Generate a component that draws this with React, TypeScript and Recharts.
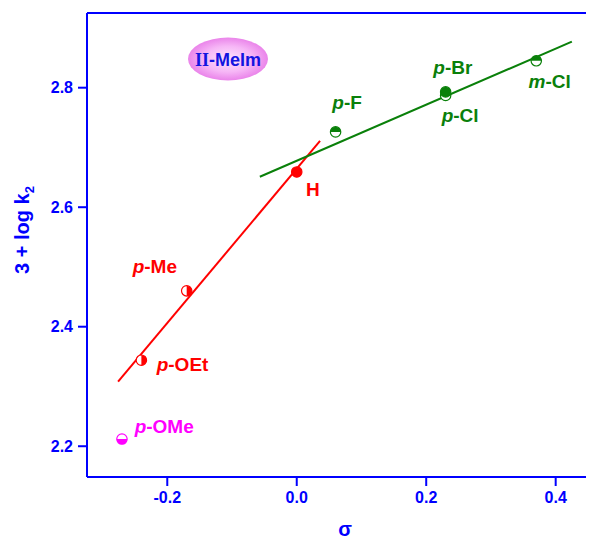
import React from 'react';
import { ComposedChart, Scatter, XAxis, YAxis, ReferenceLine, Customized } from 'recharts';

// ---- data ----
const substituents = ['p-OMe', 'p-OEt', 'p-Me', 'H', 'p-F', 'p-Br', 'p-Cl', 'm-Cl'];
const sigmaValues = [-0.27, -0.24, -0.17, 0.0, 0.06, 0.23, 0.23, 0.37];
const logKValues = [2.212, 2.344, 2.46, 2.659, 2.726, 2.793, 2.787, 2.845];

const redFitSigma = [-0.276, 0.036];
const redFitLogK = [2.308, 2.711];
const greenFitSigma = [-0.057, 0.425];
const greenFitLogK = [2.651, 2.877];

const xTicks = [-0.2, 0.0, 0.2, 0.4];
const yTicks = [2.2, 2.4, 2.6, 2.8];
const xDomain = [-0.324, 0.47];
const yDomain = [2.1485, 2.925];

// ---- styles ----
const BLUE = '#0000ff';
const RED = '#ff0000';
const GREEN = '#0a800a';
const MAGENTA = '#ff00ff';
const FONT = '"Liberation Sans", Arial, Helvetica, sans-serif';

const pointStyle: Record<string, { color: string; half: string; dx: number; dy: number }> = {
  'p-OMe': { color: MAGENTA, half: 'bottom', dx: 12.7, dy: -6 },
  'p-OEt': { color: RED, half: 'right', dx: 15.3, dy: 10.4 },
  'p-Me': { color: RED, half: 'right', dx: -54, dy: -17.6 },
  H: { color: RED, half: 'full', dx: 9.3, dy: 24.4 },
  'p-F': { color: GREEN, half: 'top', dx: -3.3, dy: -22.6 },
  'p-Br': { color: GREEN, half: 'full', dx: -12.3, dy: -17.6 },
  'p-Cl': { color: GREEN, half: 'top', dx: -4, dy: 27 },
  'm-Cl': { color: GREEN, half: 'top', dx: -7.7, dy: 27 },
};

const points = substituents.map((name, i) => ({ name, x: sigmaValues[i], y: logKValues[i] }));
// draw p-Cl before p-Br so p-Br sits on top
const drawOrder = [0, 1, 2, 3, 4, 6, 5, 7].map((i) => points[i]);

const renderPoint = (props: any) => {
  const { cx, cy, payload } = props;
  if (cx == null || cy == null) return <g />;
  const s = pointStyle[payload.name];
  const r = 5.2;
  let d = '';
  if (s.half === 'right') d = `M${cx},${cy - r} A${r},${r} 0 0 1 ${cx},${cy + r} Z`;
  else if (s.half === 'left') d = `M${cx},${cy - r} A${r},${r} 0 0 0 ${cx},${cy + r} Z`;
  else if (s.half === 'top') d = `M${cx - r},${cy} A${r},${r} 0 0 1 ${cx + r},${cy} Z`;
  else if (s.half === 'bottom') d = `M${cx - r},${cy} A${r},${r} 0 0 0 ${cx + r},${cy} Z`;
  const name: string = payload.name;
  const dash = name.indexOf('-');
  const italicPart = dash > 0 ? name.slice(0, dash) : '';
  const rest = dash > 0 ? name.slice(dash) : name;
  return (
    <g>
      <circle cx={cx} cy={cy} r={r} fill={s.half === 'full' ? s.color : '#ffffff'} stroke={s.color} strokeWidth={1.2} />
      {d && <path d={d} fill={s.color} />}
      <text x={cx + s.dx} y={cy + s.dy} fill={s.color} fontFamily={FONT} fontWeight="bold" fontSize={19}>
        {italicPart && <tspan fontStyle="italic">{italicPart}</tspan>}
        <tspan>{rest}</tspan>
      </text>
    </g>
  );
};

const Badge = () => (
  <g>
    <defs>
      <radialGradient id="badgeGrad" cx="50%" cy="50%" r="50%">
        <stop offset="0%" stopColor="#fde6fd" />
        <stop offset="60%" stopColor="#f6b6f6" />
        <stop offset="100%" stopColor="#ea84ea" />
      </radialGradient>
    </defs>
    <ellipse cx={220} cy={51} rx={40} ry={21.5} fill="url(#badgeGrad)" />
    <text x={220} y={57.5} textAnchor="middle" fill="#1414e0" fontWeight="bold" fontSize={18}>
      <tspan fontFamily='"Liberation Serif", "Times New Roman", serif'>II</tspan>
      <tspan fontFamily={FONT}>-MeIm</tspan>
    </text>
  </g>
);

const YTitle = () => (
  <text
    transform="translate(21,222) rotate(-90)"
    textAnchor="middle"
    fill={BLUE}
    fontFamily={FONT}
    fontWeight="bold"
    fontSize={20}
  >
    <tspan>3 + log k</tspan>
    <tspan fontSize={13} dy={5}>2</tspan>
  </text>
);

const XTitle = () => (
  <text x={337} y={528} textAnchor="middle" fill={BLUE} fontFamily={FONT} fontWeight="bold" fontSize={20}>
    σ
  </text>
);

export default function App() {
  return (
    <div style={{ width: 586, height: 531, overflow: 'hidden' }}>
      <ComposedChart width={603} height={531} margin={{ top: 5, right: 10, bottom: 22, left: 0 }}>
        <XAxis
          type="number"
          dataKey="x"
          domain={xDomain}
          ticks={xTicks}
          allowDataOverflow
          tickFormatter={(v: number) => v.toFixed(1)}
          height={40}
          tickSize={9}
          tickMargin={6}
          axisLine={{ stroke: BLUE, strokeWidth: 2 }}
          tickLine={{ stroke: BLUE, strokeWidth: 2 }}
          tick={{ fill: BLUE, fontFamily: FONT, fontWeight: 'bold', fontSize: 16 }}
        />
        <YAxis
          type="number"
          dataKey="y"
          domain={yDomain}
          ticks={yTicks}
          allowDataOverflow
          tickFormatter={(v: number) => v.toFixed(1)}
          width={79}
          tickSize={9}
          tickMargin={5}
          axisLine={{ stroke: BLUE, strokeWidth: 2 }}
          tickLine={{ stroke: BLUE, strokeWidth: 2 }}
          tick={{ fill: BLUE, fontFamily: FONT, fontWeight: 'bold', fontSize: 16 }}
        />
        <ReferenceLine y={yDomain[1]} stroke={BLUE} strokeWidth={2} />
        <ReferenceLine
          segment={[
            { x: redFitSigma[0], y: redFitLogK[0] },
            { x: redFitSigma[1], y: redFitLogK[1] },
          ]}
          stroke={RED}
          strokeWidth={2}
        />
        <ReferenceLine
          segment={[
            { x: greenFitSigma[0], y: greenFitLogK[0] },
            { x: greenFitSigma[1], y: greenFitLogK[1] },
          ]}
          stroke={GREEN}
          strokeWidth={2}
        />
        <Scatter data={drawOrder} shape={renderPoint} isAnimationActive={false} />
        <Customized component={Badge} />
        <Customized component={YTitle} />
        <Customized component={XTitle} />
      </ComposedChart>
    </div>
  );
}
